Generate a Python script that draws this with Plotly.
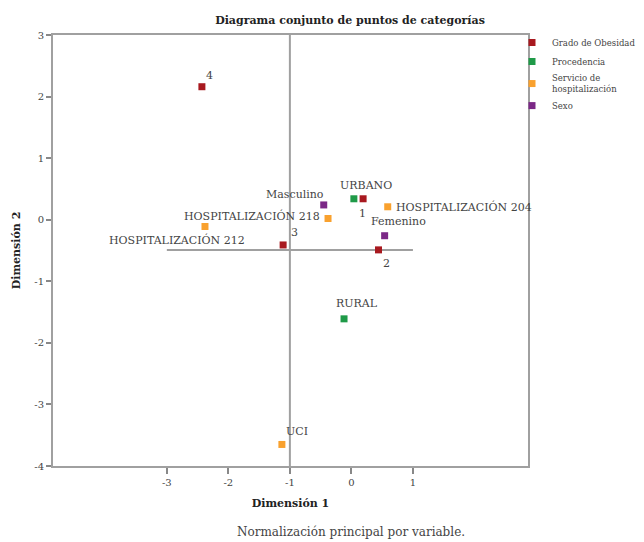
import plotly.graph_objects as go

# ---- data ----
series_names = ["Grado de Obesidad", "Procedencia", "Servicio de<br>hospitalización", "Sexo"]
series_colors = ["#a8191f", "#1f9a48", "#f9a12e", "#7b2886"]

grado_labels = ["4", "3", "1", "2"]
grado_x = [-2.43, -1.11, 0.19, 0.44]
grado_y = [2.16, -0.41, 0.34, -0.49]

proc_labels = ["URBANO", "RURAL"]
proc_x = [0.04, -0.12]
proc_y = [0.34, -1.61]

serv_labels = ["HOSPITALIZACIÓN 204", "HOSPITALIZACIÓN 218", "HOSPITALIZACIÓN 212", "UCI"]
serv_x = [0.59, -0.38, -2.38, -1.13]
serv_y = [0.21, 0.02, -0.11, -3.65]

sexo_labels = ["Masculino", "Femenino"]
sexo_x = [-0.45, 0.54]
sexo_y = [0.24, -0.26]

x_ticks = [-3, -2, -1, 0, 1]
y_ticks = [3, 2, 1, 0, -1, -2, -3, -4]
x_range = [-4.85, 2.87]
y_range = [-4.0, 3.0]

ref_x = -1.0
ref_y = -0.49
ref_y_span = [-3, 1]

# label offsets (pixels): (xshift, yshift, xanchor)
grado_off = [(8, 11, "center"), (11, 12, "center"), (-1, -15, "center"), (8, -14, "center")]
proc_off = [(12, 13, "center"), (13, 15, "center")]
serv_off = [(6, 0, "left"), (-6, 2, "right"), (-28, -14, "center"), (15, 13, "center")]
sexo_off = [(-29, 10, "center"), (14, 14, "center")]

FONT = "DejaVu Serif"
AXIS_GRAY = "#a0a0a0"
TEXT = "#444444"

# figure sits 8px inside the page (body margin); compensate
OFF = 8
W, H = 644 - OFF, 542 - OFF
L, T = 53 - OFF, 35 - OFF
PW, PH = 475, 431
R, B = W - L - PW, H - T - PH

fig = go.Figure()
groups = [
    (grado_x, grado_y, grado_labels, grado_off),
    (proc_x, proc_y, proc_labels, proc_off),
    (serv_x, serv_y, serv_labels, serv_off),
    (sexo_x, sexo_y, sexo_labels, sexo_off),
]

annotations = []
for (gx, gy, gl, go_), name, col in zip(groups, series_names, series_colors):
    fig.add_trace(go.Scatter(
        x=gx, y=gy, mode="markers", name=name,
        marker=dict(symbol="square", size=7, color=col, line=dict(width=0)),
        hoverinfo="text", text=gl,
    ))
    for x, y, lab, (dx, dy, xa) in zip(gx, gy, gl, go_):
        annotations.append(dict(
            x=x, y=y, xref="x", yref="y", text=lab, showarrow=False,
            xshift=dx, yshift=dy, xanchor=xa, yanchor="middle",
            font=dict(family=FONT, size=11, color=TEXT),
        ))

annotations.append(dict(
    x=(351 - OFF - L) / PW, y=-(532 - OFF - (T + PH)) / PH, xref="paper", yref="paper",
    xanchor="center", yanchor="middle",
    text="Normalización principal por variable.", showarrow=False,
    font=dict(family=FONT, size=12, color=TEXT),
))

shapes = [
    dict(type="line", xref="x", yref="y", x0=ref_x, x1=ref_x, y0=y_range[0], y1=y_range[1],
         line=dict(color=AXIS_GRAY, width=2), layer="below"),
    dict(type="line", xref="x", yref="y", x0=ref_y_span[0], x1=ref_y_span[1], y0=ref_y, y1=ref_y,
         line=dict(color=AXIS_GRAY, width=2), layer="below"),
]

fig.update_layout(
    width=W, height=H,
    margin=dict(l=L, r=R, t=T, b=B, autoexpand=False),
    paper_bgcolor="white", plot_bgcolor="white",
    font=dict(family=FONT, size=10, color=TEXT),
    title=dict(text="<b>Diagrama conjunto de puntos de categorías</b>",
               x=(350 - OFF) / W, xanchor="center", y=1 - (20 - OFF) / H, yanchor="middle",
               font=dict(family=FONT, size=11, color="#222222")),
    annotations=annotations,
    shapes=shapes,
    showlegend=True,
    legend=dict(x=(512 - OFF - L) / PW, xanchor="left", y=1 + 7 / PH, yanchor="top",
                font=dict(family=FONT, size=8.5, color=TEXT),
                bgcolor="rgba(0,0,0,0)", tracegroupgap=0),
    xaxis=dict(range=x_range, tickvals=x_ticks, ticktext=[str(v) for v in x_ticks],
               showgrid=False, zeroline=False, showline=True, mirror=True, automargin=False,
               linecolor=AXIS_GRAY, linewidth=2, ticks="outside", ticklen=6,
               tickcolor="#888888", tickwidth=2,
               title=dict(text="<b>Dimensión 1</b>", font=dict(family=FONT, size=11, color="#222222"), standoff=12),
               tickfont=dict(family=FONT, size=10, color=TEXT)),
    yaxis=dict(range=y_range, tickvals=y_ticks, ticktext=[str(v) for v in y_ticks],
               showgrid=False, zeroline=False, showline=True, mirror=True, automargin=False,
               linecolor=AXIS_GRAY, linewidth=2, ticks="outside", ticklen=5,
               tickcolor="#888888", tickwidth=2,
               title=dict(text="<b>Dimensión 2</b>", font=dict(family=FONT, size=11, color="#222222"), standoff=11),
               tickfont=dict(family=FONT, size=10, color=TEXT)),
)

fig.write_html("out.html")
